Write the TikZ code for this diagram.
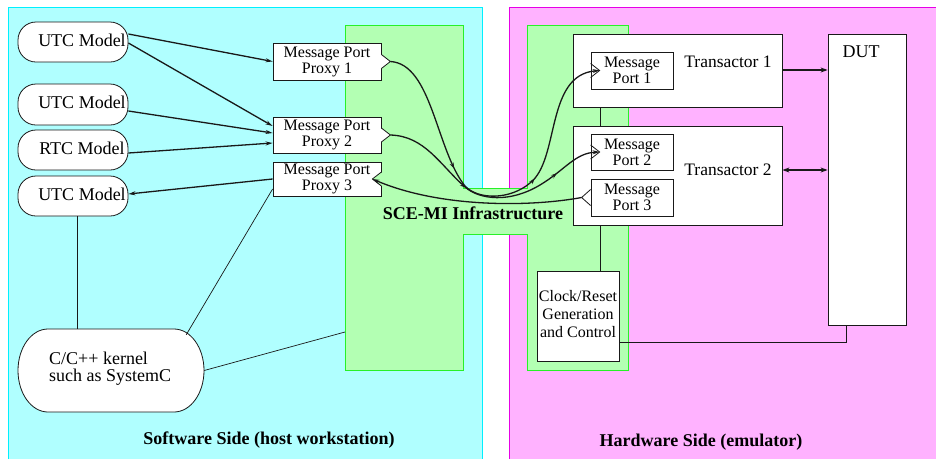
\documentclass[tikz,border=0pt]{standalone}
\usepackage{fontspec}
\setmainfont{Liberation Serif}
\usetikzlibrary{arrows.meta,decorations.markings}
\definecolor{swfill}{RGB}{176,255,255}
\definecolor{swline}{RGB}{0,240,255}
\definecolor{hwfill}{RGB}{255,178,255}
\definecolor{hwline}{RGB}{230,0,230}
\definecolor{infill}{RGB}{179,255,179}
\definecolor{inline}{RGB}{40,240,40}
\definecolor{ink}{RGB}{25,25,25}
\begin{document}
\begin{tikzpicture}[x=1pt,y=-1pt,
  model/.style={draw=ink, fill=white, line width=0.8pt, rounded corners=18pt, minimum width=110pt, minimum height=40pt, inner sep=0pt},
  tbox/.style={draw=ink, fill=white, line width=0.8pt, inner sep=0pt},
  lbl/.style={font=\fontsize{18}{18}\selectfont, inner sep=0pt},
  mp/.style={font=\fontsize{16}{16}\selectfont, align=center, inner sep=0pt},
  blbl/.style={font=\bfseries\fontsize{18}{18}\selectfont, inner sep=0pt},
  thinline/.style={draw=ink, line width=0.7pt},
  edge/.style={draw=ink, line width=0.8pt},
  conn/.style={draw=ink, line width=1.3pt, -{Stealth[length=7pt,width=4pt]}},
  big/.style={draw=ink, line width=2.2pt, -{Stealth[length=7pt,width=5pt]}},
  curve/.style 2 args={draw=ink, line width=1.3pt, -{Stealth[length=7pt,width=4pt]},
    postaction={decorate}, decoration={markings,
      mark=at position #1 with {\arrow{Stealth[length=6pt,width=4pt]}},
      mark=at position #2 with {\arrow{Stealth[length=6pt,width=4pt]}}}}
]
\useasboundingbox (0,0) rectangle (936,459);
% backgrounds
\fill[swfill] (8,7) rectangle (482,459);
\draw[swline, line width=1pt] (8,459) -- (8,7) -- (482,7) -- (482,459);
\fill[hwfill] (509,7) rectangle (936,459);
\draw[hwline, line width=1pt] (509,459) -- (509,7) -- (936,7);
\filldraw[fill=infill, draw=inline, line width=1pt] (345,25) -- (463,25) -- (463,188) -- (527,188) -- (527,25) -- (628,25) -- (628,370) -- (527,370) -- (527,234) -- (463,234) -- (463,370) -- (345,370) -- cycle;
\coordinate (g1) at (345,332);

% software side models
\node[model] (u1) at (73,42) {};
\node[lbl] (u1t) at (82,40) {UTC Model};
\node[model, minimum height=41pt] (u2) at (73,104.5) {};
\node[lbl] (u2t) at (82,102.5) {UTC Model};
\node[model] (r1) at (73,150) {};
\node[lbl] (r1t) at (82,148) {RTC Model};
\node[model] (u3) at (73,196) {};
\node[lbl] (u3t) at (82,194) {UTC Model};
% kernel: flat top and bottom with half-elliptic ends
\filldraw[fill=white, edge] (48,329) -- (174,329) .. controls (190.6,329) and (204,347.6) .. (204,370.5)
  .. controls (204,393.4) and (190.6,412) .. (174,412) -- (48,412)
  .. controls (31.4,412) and (18,393.4) .. (18,370.5)
  .. controls (18,347.6) and (31.4,329) .. (48,329) -- cycle;
\node[inner sep=0pt, minimum width=186pt, minimum height=83pt] (kern) at (111,370.5) {};
\node[lbl, align=left, anchor=west, font=\fontsize{18}{17}\selectfont] (kernt) at (49,369) {C/C++ kernel\\such as SystemC};

% proxies
\node[tbox, mp, minimum width=108pt, minimum height=37pt] (p1) at (327,61.5) {Message Port\\Proxy 1};
\node[tbox, mp, minimum width=108pt, minimum height=36pt] (p2) at (327,135) {Message Port\\Proxy 2};
\node[tbox, mp, minimum width=108pt, minimum height=34pt] (p3) at (327,179) {Message Port\\Proxy 3};
% outward tips on proxies 1 and 2
\foreach \p in {p1,p2}{
  \draw[white, line width=1.6pt] ([yshift=6.5pt]\p.east) -- ([yshift=-6.5pt]\p.east);
  \filldraw[fill=white, edge] ([yshift=7pt]\p.east) -- ([xshift=9pt]\p.east) -- ([yshift=-7pt]\p.east);
}
\coordinate (p1tip) at ([xshift=9pt]p1.east);
\coordinate (p2tip) at ([xshift=9pt]p2.east);
% inward notch on proxy 3
\fill[infill] ([yshift=7pt]p3.east) -- ([xshift=-9pt]p3.east) -- ([yshift=-7pt]p3.east) -- cycle;
\draw[infill, line width=1.6pt] ([yshift=6.5pt]p3.east) -- ([yshift=-6.5pt]p3.east);
\draw[edge] ([yshift=7pt]p3.east) -- ([xshift=-9pt]p3.east) -- ([yshift=-7pt]p3.east);
\coordinate (p3notch) at ([xshift=-9pt]p3.east);

% hardware side
\node[tbox, minimum width=82pt, minimum height=90pt] (clk) at (578,316) {};
\node[mp, font=\fontsize{16}{18}\selectfont] (clkt) at (578,314) {Clock/Reset\\Generation\\and Control};
\node[tbox, minimum width=209pt, minimum height=73pt] (t1) at (677.5,70.5) {};
\draw[thinline] ([xshift=28pt]t1.south west) -- ([xshift=28pt]t1.south west |- clk.north);
\node[tbox, minimum width=209pt, minimum height=99pt] (t2) at (677.5,175.5) {};
\node[lbl, font=\fontsize{17.5}{17.5}\selectfont] (t1t) at (728,62) {Transactor 1};
\node[lbl, font=\fontsize{17.5}{17.5}\selectfont] (t2t) at (728,170) {Transactor 2};
\node[tbox, mp, minimum width=82pt, minimum height=37pt] (m1) at (632,70.5) {Message\\Port 1};
\node[tbox, mp, minimum width=82pt, minimum height=36pt] (m2) at (632,152) {Message\\Port 2};
\node[tbox, mp, minimum width=82pt, minimum height=37pt] (m3) at (632,197.5) {Message\\Port 3};
% inward notches on ports 1 and 2
\foreach \m in {m1,m2}{
  \draw[white, line width=1.6pt] ([yshift=6.5pt]\m.west) -- ([yshift=-6.5pt]\m.west);
  \draw[edge] ([yshift=7pt]\m.west) -- ([xshift=9pt]\m.west) -- ([yshift=-7pt]\m.west);
}
\coordinate (m1notch) at ([xshift=9pt]m1.west);
\coordinate (m2notch) at ([xshift=9pt]m2.west);
% outward tip on port 3
\draw[white, line width=1.6pt] ([yshift=7.5pt]m3.west) -- ([yshift=-7.5pt]m3.west);
\draw[edge] ([yshift=8pt]m3.west) -- ([xshift=-9pt]m3.west) -- ([yshift=-8pt]m3.west);
\coordinate (m3tip) at ([xshift=-9pt]m3.west);

\node[tbox, minimum width=78pt, minimum height=291pt] (dut) at (867,179.5) {};
\node[lbl] (dutt) at (861,52) {DUT};

% software lines
\draw[thinline] ([xshift=4pt]u3.south) -- ([xshift=4pt]u3.south |- kern.north);
\draw[thinline] ([xshift=-18pt,yshift=-6pt]kern.north east) -- ([yshift=-10pt]p3.west);
\draw[thinline] (kern.east) -- (g1);

% model arrows
\draw[conn] ([yshift=8pt]u1.east) -- (p1.west);
\draw[conn] ([yshift=-1pt]u1.east) -- ([yshift=9pt]p2.west);
\draw[conn] ([yshift=-6.5pt]u2.east) -- ([yshift=2pt]p2.west);
\draw[conn] ([yshift=-3pt]r1.east) -- ([yshift=-8pt]p2.west);
\draw[conn] (p3.west) -- ([yshift=2pt]u3.east);

% infrastructure curves
\draw[curve={0.36}{0.63}] (p1tip) .. controls (432,64) and (436,150) .. (465,186) .. controls (478,200) and (510,200) .. (530,183) .. controls (560,160) and (545,75) .. (m1notch);
\draw[curve={0.39}{0.8}] (p2tip) .. controls (425,136) and (440,165) .. (465,187) .. controls (480,200) and (510,203) .. (540,185) .. controls (565,170) and (575,153) .. (m2notch);
\draw[conn] (m3tip) .. controls (530,207) and (440,208) .. (p3notch);

% hardware connections
\draw[big] ([yshift=0.5pt]t1.east) -- ([yshift=0.5pt]t1.east -| dut.west);
\draw[big, {Stealth[length=7pt,width=5pt]}-{Stealth[length=7pt,width=5pt]}] ([yshift=5.5pt]t2.east) -- ([yshift=5.5pt]t2.east -| dut.west);
\draw[thinline] ([yshift=-26pt]clk.east) -| ([xshift=-21pt]dut.south);

% labels
\node[blbl] (sce) at (473,213) {SCE-MI Infrastructure};
\node[blbl] (sw) at (269,440) {Software Side (host workstation)};
\node[blbl] (hw) at (701,442) {Hardware Side (emulator)};
\end{tikzpicture}
\end{document}
